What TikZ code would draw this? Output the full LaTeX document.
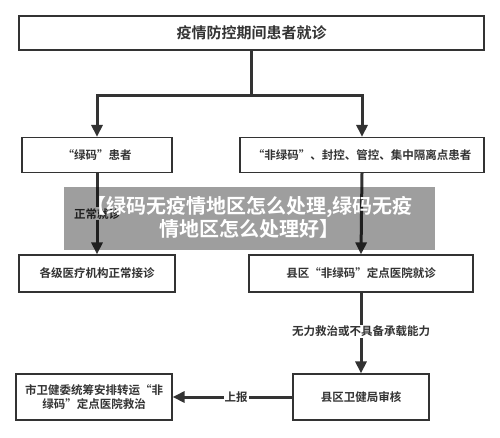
\documentclass[tikz,border=0pt]{standalone}
\usepackage{fontspec}
\setmainfont{Noto Sans CJK SC}[BoldFont={* Bold}]
\usetikzlibrary{arrows.meta}
\definecolor{ink}{HTML}{333333}
\tikzset{
  box/.style={draw=ink, line width=1.2pt, fill=white, inner sep=0pt, font=\bfseries\fontsize{11.5}{14}\selectfont, text=ink, align=center},
  conn/.style={draw=ink, line width=3pt, -{Triangle[length=12pt,width=11pt]}},
  lab/.style={fill=white, inner sep=1pt, font=\bfseries\fontsize{11.5}{14}\selectfont, text=ink},
}
\begin{document}
\begin{tikzpicture}[x=1pt,y=-1pt]
\useasboundingbox (0,0) rectangle (500,437);
\fill[white] (0,0) rectangle (500,437);
% boxes
\node[box, minimum width=465pt, minimum height=34pt, font=\bfseries\fontsize{15}{18}\selectfont] (top) at (251.5,33) {疫情防控期间患者就诊};
\node[box, minimum width=150pt, minimum height=35pt] (green) at (97,155) {“绿码”患者};
\node[box, minimum width=244pt, minimum height=35pt] (nongreen) at (362,155) {“非绿码”、封控、管控、集中隔离点患者};
\node[box, minimum width=156pt, minimum height=37pt] (normal) at (97,273.5) {各级医疗机构正常接诊};
\node[box, minimum width=224pt, minimum height=37pt] (county) at (361,273.5) {县区“非绿码”定点医院就诊};
\node[box, minimum width=136pt, minimum height=46pt] (review) at (361,397) {县区卫健局审核};
\node[box, minimum width=156pt, minimum height=46pt, align=center] (city) at (94,397) {市卫健委统筹安排转运“非\\绿码”定点医院救治};
% connectors
\coordinate (j) at (251,95);
\draw[draw=ink, line width=3pt] (top.south -| j) -- (j);
\draw[conn] (j) -| (green.north);
\draw[conn] (j) -| (nongreen.north);
\draw[conn] (green.south) -- node[lab, pos=0.5] (l1) {正常就诊} (normal.north);
\draw[conn] (nongreen.south) -- (county.north);
\draw[conn] (county.south) -- node[lab, pos=0.48] (l2) {无力救治或不具备承载能力} (review.north);
\draw[conn] (review.west) -- node[lab, pos=0.47] (l3) {上报} (city.east);
% banner overlay
\fill[black, opacity=0.38] (64,187) rectangle (435,250);
\node[font=\bfseries\fontsize{20}{23}\selectfont, text=white, align=center] (banner) at (249.5,217) {【绿码无疫情地区怎么处理,绿码无疫\\情地区怎么处理好】};
\end{tikzpicture}
\end{document}
